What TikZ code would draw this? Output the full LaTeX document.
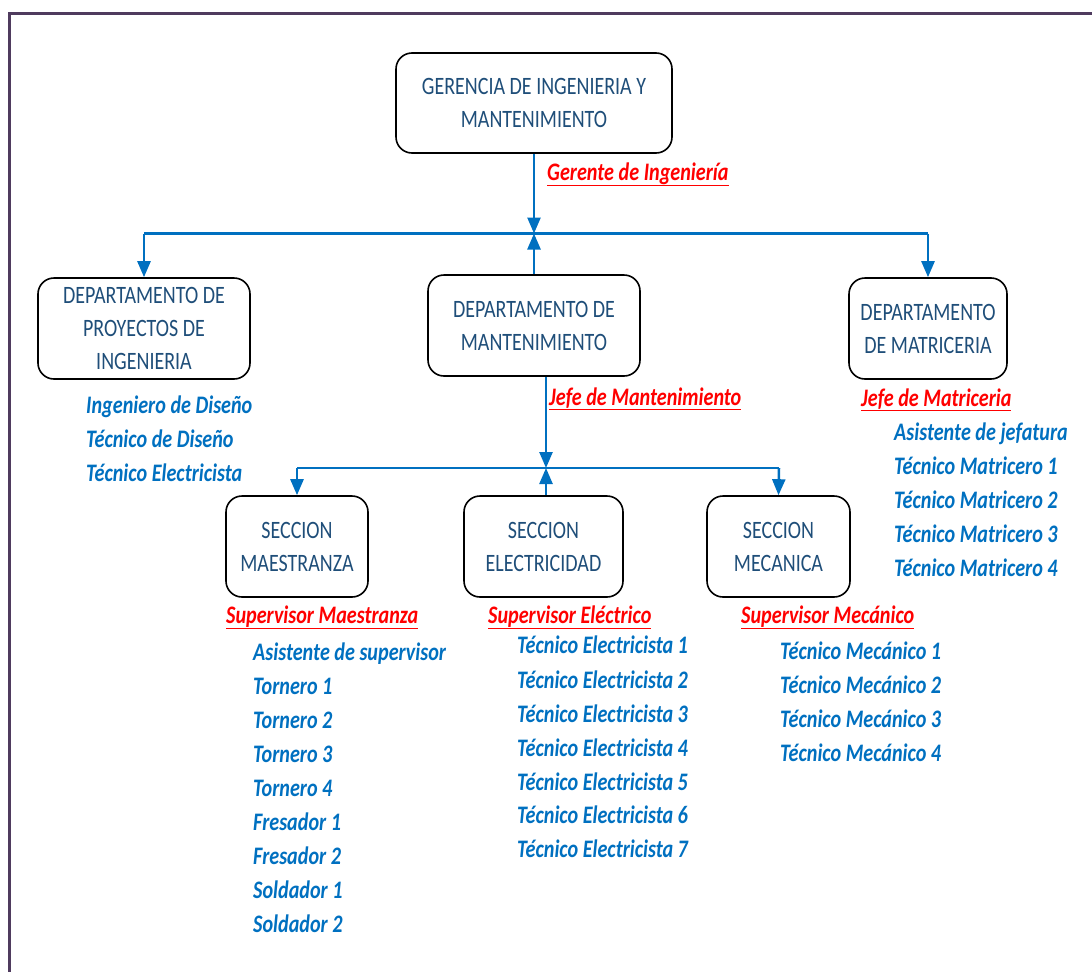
\documentclass[tikz,border=0pt]{standalone}
\usepackage{fontspec}
\setmainfont{Carlito}[FakeStretch=0.8]
\usetikzlibrary{arrows.meta}
\definecolor{frame}{HTML}{4F3B5E}
\definecolor{lineblue}{HTML}{0070C0}
\definecolor{boxtext}{HTML}{1F4E79}
\definecolor{lred}{HTML}{FF0000}
\tikzset{
  orgbox/.style={draw=black, line width=1.6pt, rounded corners=16pt, align=center,
    text=boxtext, font=\fontsize{25}{33}\selectfont, inner sep=0pt},
  conn/.style={draw=lineblue, line width=2.5pt},
  arr/.style={conn, -{Triangle[length=16pt,width=13pt]}},
  role/.style={anchor=base west, inner sep=0pt, text=lred, font=\fontsize{25.2}{30}\selectfont\bfseries\itshape},
  staff/.style={anchor=base west, inner sep=0pt, text=lineblue, font=\fontsize{25.2}{30}\selectfont\bfseries\itshape},
}
\begin{document}
\begin{tikzpicture}[x=1pt,y=-1pt]
\useasboundingbox (0,0) rectangle (1092,972);
% frame
\draw[frame, line width=3pt] (1092,13) -- (9,13) -- (9,972);
% boxes
\node[orgbox, minimum width=276pt, minimum height=100pt] (top) at (534,103) {GERENCIA DE INGENIERIA Y\\MANTENIMIENTO};
\node[orgbox, minimum width=212pt, minimum height=101pt] (left) at (144,328.5) {DEPARTAMENTO DE\\PROYECTOS DE\\INGENIERIA};
\node[orgbox, minimum width=212pt, minimum height=101pt] (mid) at (534,325.5) {DEPARTAMENTO DE\\MANTENIMIENTO};
\node[orgbox, minimum width=158pt, minimum height=101pt] (right) at (928,328.5) {DEPARTAMENTO\\DE MATRICERIA};
\node[orgbox, minimum width=142pt, minimum height=101pt] (maes) at (297,546.5) {SECCION\\MAESTRANZA};
\node[orgbox, minimum width=159pt, minimum height=101pt] (elec) at (543.5,546.5) {SECCION\\ELECTRICIDAD};
\node[orgbox, minimum width=143pt, minimum height=101pt] (meca) at (778.5,546.5) {SECCION\\MECANICA};
% junctions
\coordinate (j1) at (534,233.5);
\coordinate (j1l) at (144,233.5);
\coordinate (j1r) at (928,233.5);
\coordinate (j2) at (546,468);
\coordinate (j2l) at (297,468);
\coordinate (j2r) at (779,468);
% connectors
\draw[conn] (j1l) -- (j1r);
\draw[arr] (top.south) -- (j1);
\draw[arr] (mid.north) -- (j1);
\draw[arr] (j1l) -- (left.north);
\draw[arr] (j1r) -- (right.north);
\draw[conn] (j2l) -- (j2r);
\draw[arr] (mid.south -| j2) -- (j2);
\draw[arr] (elec.north -| j2) -- (j2);
\draw[arr] (j2l) -- (maes.north);
\draw[arr] (j2r) -- (meca.north);
% role labels
\node[role] (r1) at (547,180) {\underline{Gerente de Ingeniería}};
\node[role] (r2) at (549,405) {\underline{Jefe de Mantenimiento}};
\node[role] (r3) at (861,406) {\underline{Jefe de Matriceria}};
\node[role] (r4) at (226,623) {\underline{Supervisor Maestranza}};
\node[role] (r5) at (488,623) {\underline{Supervisor Eléctrico}};
\node[role] (r6) at (741,623) {\underline{Supervisor Mecánico}};
% staff: proyectos
\node[staff] (p1) at (86,413) {Ingeniero de Diseño};
\node[staff] (p2) at (86,447) {Técnico de Diseño};
\node[staff] (p3) at (86,481) {Técnico Electricista};
% staff: matriceria
\node[staff] (m1) at (894,440) {Asistente de jefatura};
\node[staff] (m2) at (894,474) {Técnico Matricero 1};
\node[staff] (m3) at (894,508) {Técnico Matricero 2};
\node[staff] (m4) at (894,542) {Técnico Matricero 3};
\node[staff] (m5) at (894,576) {Técnico Matricero 4};
% staff: maestranza
\node[staff] (a1) at (253,660) {Asistente de supervisor};
\node[staff] (a2) at (253,694) {Tornero 1};
\node[staff] (a3) at (253,728) {Tornero 2};
\node[staff] (a4) at (253,762) {Tornero 3};
\node[staff] (a5) at (253,796) {Tornero 4};
\node[staff] (a6) at (253,830) {Fresador 1};
\node[staff] (a7) at (253,864) {Fresador 2};
\node[staff] (a8) at (253,898) {Soldador 1};
\node[staff] (a9) at (253,932) {Soldador 2};
% staff: electricidad
\node[staff] (e1) at (517,653) {Técnico Electricista 1};
\node[staff] (e2) at (517,688) {Técnico Electricista 2};
\node[staff] (e3) at (517,722) {Técnico Electricista 3};
\node[staff] (e4) at (517,756) {Técnico Electricista 4};
\node[staff] (e5) at (517,790) {Técnico Electricista 5};
\node[staff] (e6) at (517,823) {Técnico Electricista 6};
\node[staff] (e7) at (517,857) {Técnico Electricista 7};
% staff: mecanica
\node[staff] (c1) at (780,659) {Técnico Mecánico 1};
\node[staff] (c2) at (780,693) {Técnico Mecánico 2};
\node[staff] (c3) at (780,727) {Técnico Mecánico 3};
\node[staff] (c4) at (780,761) {Técnico Mecánico 4};
\end{tikzpicture}
\end{document}
